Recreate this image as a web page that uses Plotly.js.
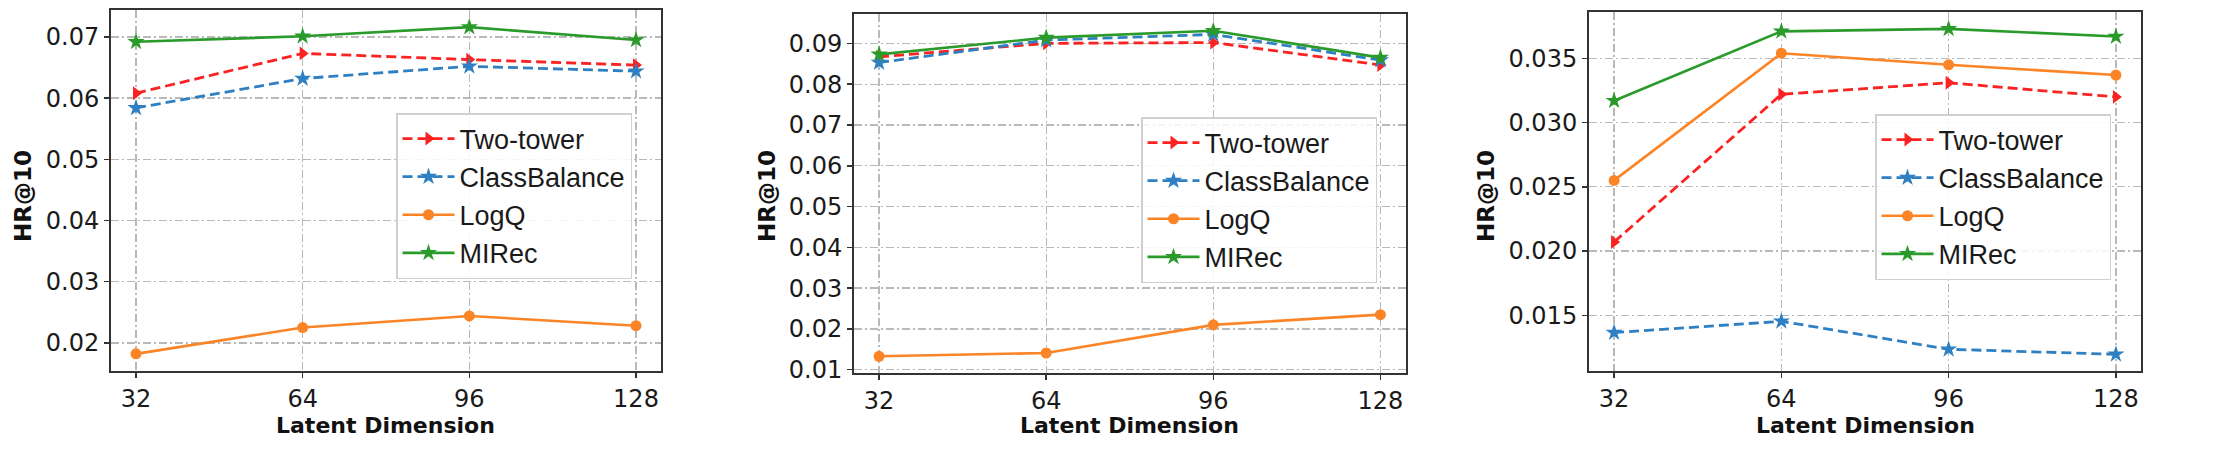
<!DOCTYPE html>
<html>
<head>
<meta charset="utf-8">
<script src="https://cdn.plot.ly/plotly-3.0.1.min.js"></script>
<style>
  html, body { margin: 0; padding: 0; background: #ffffff; }
  #chart { width: 2214px; height: 450px; }
</style>
</head>
<body>
<div id="chart"></div>
<script>
// ---- data ----
const latentDims = [32, 64, 96, 128];
const seriesNames = ['Two-tower', 'ClassBalance', 'LogQ', 'MIRec'];

// Panel 1
const p1TwoTower     = [0.0608, 0.0673, 0.0663, 0.0654];
const p1ClassBalance = [0.0584, 0.0632, 0.0652, 0.0644];
const p1LogQ         = [0.0182, 0.0225, 0.0244, 0.0228];
const p1MIRec        = [0.0692, 0.0701, 0.0716, 0.0695];

// Panel 2
const p2TwoTower     = [0.0867, 0.0900, 0.0902, 0.0847];
const p2ClassBalance = [0.0853, 0.0908, 0.0922, 0.0859];
const p2LogQ         = [0.0133, 0.0141, 0.0210, 0.0235];
const p2MIRec        = [0.0873, 0.0914, 0.0931, 0.0865];

// Panel 3
const p3TwoTower     = [0.0207, 0.0322, 0.0331, 0.0320];
const p3ClassBalance = [0.01365, 0.01453, 0.01235, 0.01196];
const p3LogQ         = [0.0255, 0.0354, 0.0345, 0.0337];
const p3MIRec        = [0.0317, 0.0371, 0.0373, 0.0367];

const yTicks1 = [0.02, 0.03, 0.04, 0.05, 0.06, 0.07];
const yTicks2 = [0.01, 0.02, 0.03, 0.04, 0.05, 0.06, 0.07, 0.08, 0.09];
const yTicks3 = [0.015, 0.020, 0.025, 0.030, 0.035];

const xTitle = 'Latent Dimension';
const yTitle = 'HR@10';

// ---- styles ----
const styles = [
  { color: '#fb2222', dash: '10px,5px', symbol: 'triangle-right', size: 12, width: 2.8 },
  { color: '#2f80c2', dash: '10px,5px', symbol: 'star',           size: 13, width: 2.8 },
  { color: '#fb8426', dash: 'solid',    symbol: 'circle',         size: 11, width: 2.6 },
  { color: '#2a9b2a', dash: 'solid',    symbol: 'star',           size: 13, width: 2.6 }
];

const panels = [
  { vals: [p1TwoTower, p1ClassBalance, p1LogQ, p1MIRec], ticks: yTicks1, fmt: '.2f' },
  { vals: [p2TwoTower, p2ClassBalance, p2LogQ, p2MIRec], ticks: yTicks2, fmt: '.2f' },
  { vals: [p3TwoTower, p3ClassBalance, p3LogQ, p3MIRec], ticks: yTicks3, fmt: '.3f' }
];

const W = 2214, H = 450;
// plot frames in pixels: [left, right, top, bottom]
const frames = [
  [111, 661, 10, 371],
  [854, 1405.5, 14, 373],
  [1589, 2141, 12, 371]
];
const yRanges = [[0.0154, 0.0744], [0.0092, 0.0972], [0.01066, 0.03861]];
const legendBoxes = [[396, 113], [1141, 117], [1875, 114]];
const yTitleX = [23, 767, 1486];

const traces = [];
const layout = {
  width: W, height: H,
  margin: { l: 0, r: 0, t: 0, b: 0 },
  paper_bgcolor: '#ffffff',
  plot_bgcolor: '#ffffff',
  showlegend: true,
  annotations: []
};

panels.forEach((p, i) => {
  const n = i + 1;
  const sfx = (n === 1 ? '' : String(n));
  const xa = 'x' + sfx;
  const ya = 'y' + sfx;
  const lg = 'legend' + sfx;
  p.vals.forEach((v, k) => {
    const s = styles[k];
    traces.push({
      type: 'scatter', mode: 'lines+markers',
      x: latentDims, y: v, name: seriesNames[k],
      xaxis: xa, yaxis: ya, legend: lg,
      line: { color: s.color, width: s.width, dash: s.dash },
      marker: { color: s.color, symbol: s.symbol, size: s.size, line: { width: 0 } }
    });
  });
  const f = frames[i];
  const axCommon = {
    showline: true, mirror: true, linecolor: '#333333', linewidth: 2,
    ticks: 'outside', ticklen: 5, tickwidth: 1.5, tickcolor: '#333333',
    showgrid: true, gridcolor: '#b9b9b9', gridwidth: 1.3, griddash: '8px,3px,2px,3px',
    zeroline: false,
    tickfont: { family: 'DejaVu Sans', size: 24, color: '#1a1a1a' },
    fixedrange: true
  };
  layout['xaxis' + sfx] = Object.assign({}, axCommon, {
    domain: [f[0] / W, f[1] / W],
    anchor: ya,
    range: [27.2, 132.8],
    tickmode: 'array', tickvals: latentDims, ticktext: latentDims.map(String)
  });
  layout['yaxis' + sfx] = Object.assign({}, axCommon, {
    domain: [(H - f[3]) / H, (H - f[2]) / H],
    anchor: xa,
    range: yRanges[i],
    tickmode: 'array', tickvals: p.ticks, tickformat: p.fmt
  });
  const lb = legendBoxes[i];
  layout[lg] = {
    x: lb[0] / W, y: (H - lb[1]) / H, xanchor: 'left', yanchor: 'top',
    bgcolor: 'rgba(255,255,255,0.85)', bordercolor: '#d0d0d0', borderwidth: 1.5,
    font: { family: 'Liberation Sans, Arial, sans-serif', size: 27, color: '#1a1a1a' },
    itemwidth: 52,
    tracegroupgap: 0
  };
  layout.annotations.push({
    text: xTitle, xref: 'paper', yref: 'paper',
    x: (f[0] + f[1]) / 2 / W, y: (H - 425) / H, xanchor: 'center', yanchor: 'middle',
    showarrow: false,
    font: { family: 'DejaVu Sans', size: 22, color: '#111111', weight: 'bold' }
  });
  layout.annotations.push({
    text: yTitle, xref: 'paper', yref: 'paper', textangle: -90,
    x: yTitleX[i] / W, y: (H - 196) / H, xanchor: 'center', yanchor: 'middle',
    showarrow: false,
    font: { family: 'DejaVu Sans', size: 23, color: '#111111', weight: 'bold' }
  });
});

Plotly.newPlot('chart', traces, layout, { displayModeBar: false, staticPlot: true });
</script>
</body>
</html>
